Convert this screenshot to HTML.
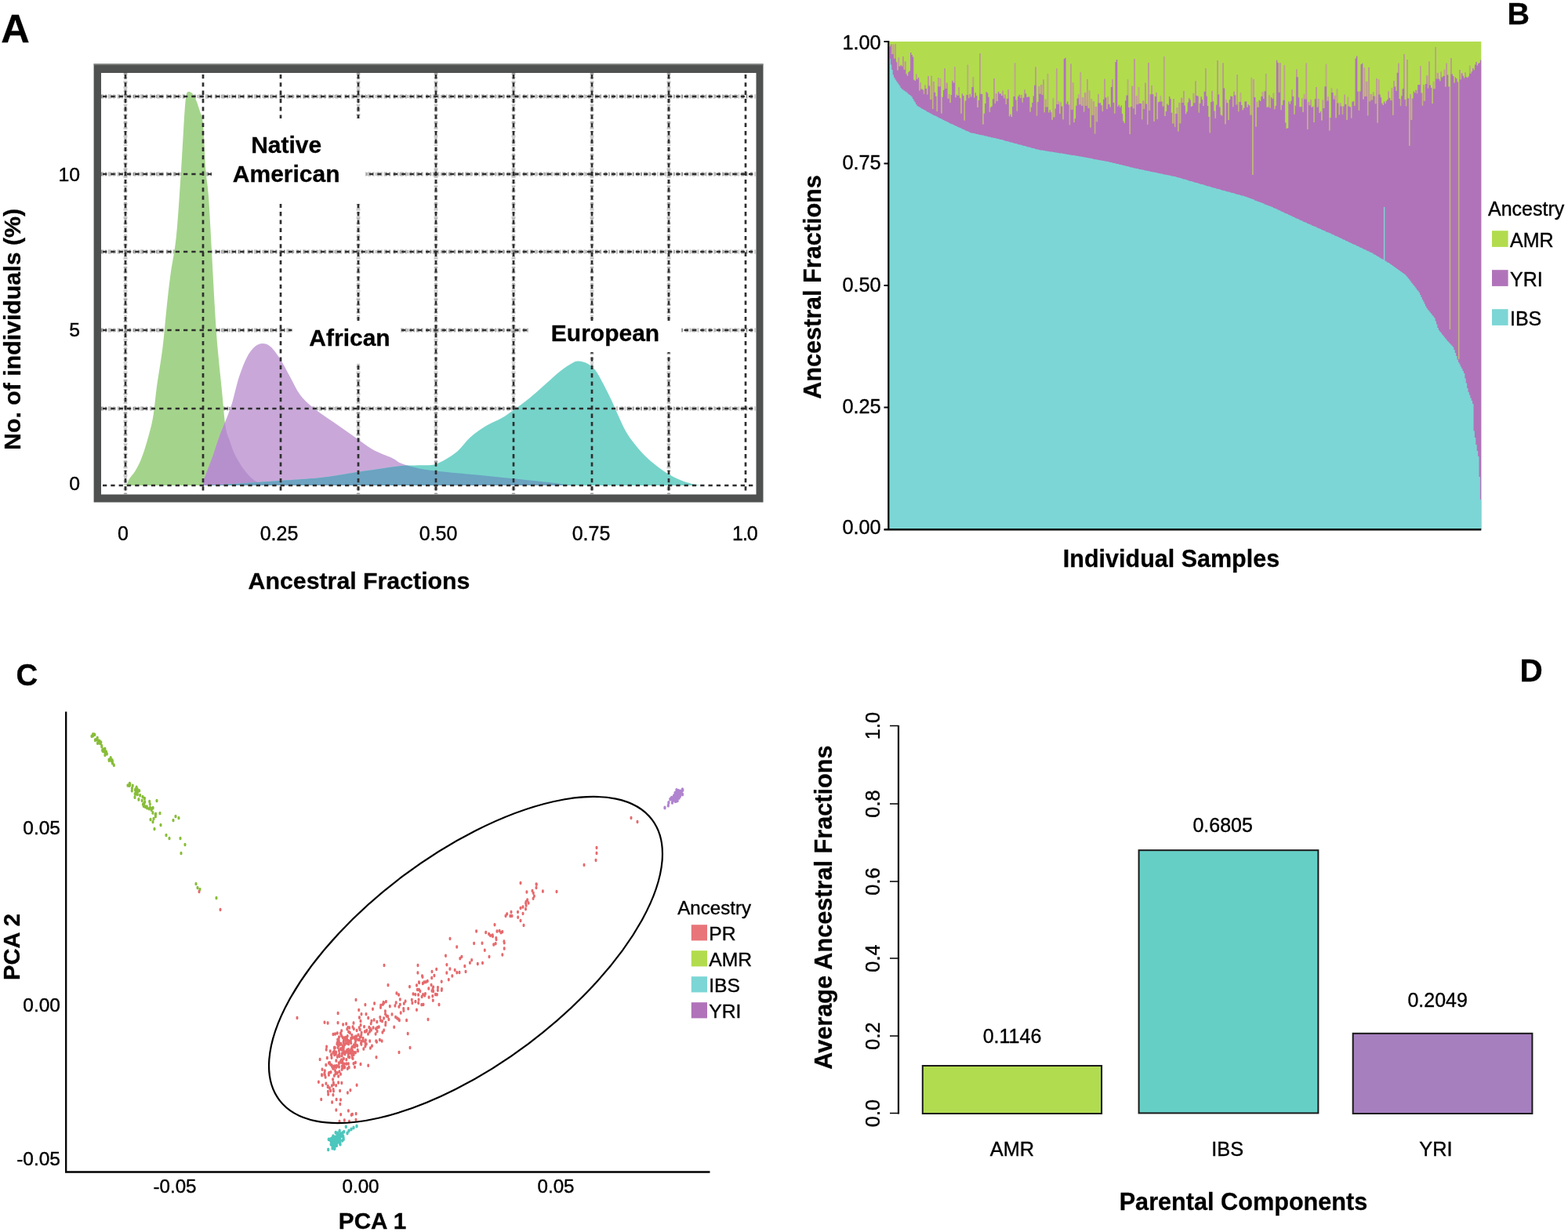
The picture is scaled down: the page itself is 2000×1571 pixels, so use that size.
<!DOCTYPE html>
<html lang="en">
<head>
<meta charset="utf-8">
<title>Ancestral fractions figure</title>
<style>
html,body{margin:0;padding:0;background:#fff;}
body{width:2000px;height:1571px;overflow:hidden;}
svg{display:block;font-family:'Liberation Sans', sans-serif;}
</style>
</head>
<body>
<svg width="2000" height="1571" viewBox="0 0 2000 1571">
<rect width="2000" height="1571" fill="#fff"/>
<g id="panelA">
<rect x="119.6" y="81.5" width="853.9" height="559" fill="#4f5150"/>
<rect x="119.6" y="81" width="853.9" height="1.8" fill="#8a8c8b"/>
<rect x="129" y="93" width="835.5" height="537.5" fill="#fff"/>
<defs><clipPath id="cg"><path d="M160.0,619.0C160.4,618.5 161.7,617.4 162.5,616.0C163.3,614.6 163.3,613.1 165.0,610.5C166.7,607.9 170.0,604.7 172.5,600.5C175.0,596.3 177.5,591.8 180.0,585.5C182.5,579.2 185.0,571.8 187.5,563.0C190.0,554.2 192.9,544.7 195.0,533.0C197.1,521.3 197.9,508.0 200.0,493.0C202.1,478.0 205.4,459.7 207.5,443.0C209.6,426.3 210.8,408.5 212.5,393.0C214.2,377.5 215.4,365.5 217.5,350.0C219.6,334.5 222.8,322.1 225.0,300.0C227.2,277.9 229.3,242.5 231.0,217.5C232.7,192.5 233.9,165.9 235.0,150.0C236.1,134.1 236.5,127.5 237.5,122.0C238.5,116.5 239.6,117.3 241.0,117.0C242.4,116.7 244.5,118.2 246.0,120.0C247.5,121.8 248.5,123.8 250.0,127.5C251.5,131.2 253.5,137.0 255.0,142.0C256.5,147.0 257.8,144.9 259.0,157.5C260.2,170.1 261.3,202.1 262.5,217.5C263.7,232.9 264.8,232.9 266.0,250.0C267.2,267.1 268.7,296.2 270.0,320.0C271.3,343.8 272.8,372.5 274.0,393.0C275.2,413.5 276.1,426.3 277.5,443.0C278.9,459.7 280.8,476.3 282.5,493.0C284.2,509.7 285.8,531.5 287.5,543.0C289.2,554.5 290.9,555.8 293.0,562.0C295.1,568.2 296.8,574.1 300.0,580.5C303.2,586.9 308.3,595.1 312.5,600.5C316.7,605.9 320.9,610.2 325.0,613.0C329.1,615.8 333.7,616.5 337.0,617.5C340.3,618.5 343.7,618.8 345.0,619.0Z"/></clipPath><clipPath id="cp"><path d="M259.0,619.0C259.2,617.8 258.8,615.8 260.0,612.0C261.2,608.2 264.0,601.3 266.0,596.0C268.0,590.7 269.7,586.7 272.0,580.0C274.3,573.3 277.3,563.3 280.0,556.0C282.7,548.7 285.3,543.0 288.0,536.0C290.7,529.0 293.2,523.2 296.0,514.0C298.8,504.8 301.8,490.2 305.0,480.5C308.2,470.8 311.7,461.9 315.0,455.5C318.3,449.1 321.7,444.9 325.0,442.0C328.3,439.1 331.7,438.0 335.0,438.0C338.3,438.0 341.2,438.7 345.0,442.0C348.8,445.3 353.3,451.6 357.5,458.0C361.7,464.4 365.8,473.0 370.0,480.5C374.2,488.0 377.5,496.3 382.5,503.0C387.5,509.7 392.9,514.7 400.0,520.5C407.1,526.3 416.7,532.2 425.0,538.0C433.3,543.8 441.7,549.7 450.0,555.5C458.3,561.3 466.7,568.2 475.0,573.0C483.3,577.8 493.8,581.0 500.0,584.0C506.2,587.0 506.2,588.8 512.0,591.0C517.8,593.2 527.0,595.8 535.0,597.5C543.0,599.2 547.8,599.6 560.0,601.0C572.2,602.4 592.0,604.0 608.0,605.6C624.0,607.2 640.0,608.9 656.0,610.5C672.0,612.1 692.5,614.2 704.0,615.5C715.5,616.8 719.8,617.9 725.0,618.5C730.2,619.1 733.3,618.9 735.0,619.0Z"/></clipPath><clipPath id="ct"><path d="M259.0,619.0C265.8,618.7 283.7,618.0 300.0,617.0C316.3,616.0 340.3,614.2 357.0,613.0C373.7,611.8 388.7,611.0 400.0,610.0C411.3,609.0 415.7,608.3 425.0,607.0C434.3,605.7 446.8,603.4 456.0,602.0C465.2,600.6 470.7,599.8 480.0,598.5C489.3,597.2 501.3,594.9 512.0,594.0C522.7,593.1 536.8,593.6 544.0,593.3C551.2,593.0 551.0,593.2 555.0,592.0C559.0,590.8 563.2,588.8 568.0,586.0C572.8,583.2 578.7,579.8 584.0,575.0C589.3,570.2 594.0,562.8 600.0,557.5C606.0,552.2 613.3,547.1 620.0,543.0C626.7,538.9 634.2,536.3 640.0,533.0C645.8,529.7 649.2,527.2 655.0,523.0C660.8,518.8 668.3,513.4 675.0,508.0C681.7,502.6 688.3,496.3 695.0,490.5C701.7,484.7 709.2,477.6 715.0,473.0C720.8,468.4 726.2,465.1 730.0,463.0C733.8,460.9 734.7,460.3 738.0,460.5C741.3,460.7 746.3,461.9 750.0,464.0C753.7,466.1 756.7,468.6 760.0,473.0C763.3,477.4 766.7,484.2 770.0,490.5C773.3,496.8 776.7,503.4 780.0,510.5C783.3,517.6 786.7,525.9 790.0,533.0C793.3,540.1 795.8,546.3 800.0,553.0C804.2,559.7 810.0,567.2 815.0,573.0C820.0,578.8 824.2,583.0 830.0,588.0C835.8,593.0 843.3,598.8 850.0,603.0C856.7,607.2 863.8,610.5 870.0,613.0C876.2,615.5 883.3,617.0 887.5,618.0C891.7,619.0 893.8,618.8 895.0,619.0Z"/></clipPath><clipPath id="cin"><rect x="129" y="93" width="835.5" height="537.5"/></clipPath></defs>
<g clip-path="url(#cin)" fill="none">
<path d="M129,123H964.5M129,222H964.5M129,321H964.5M129,421H964.5M129,521H964.5" stroke="#8a8a8a" stroke-width="5.5" stroke-dasharray="3.2 2.1 1.5 1.9 4.1 2.4 2.2 3.3" stroke-opacity="0.5"/>
<path d="M129,123H964.5M129,222H964.5M129,321H964.5M129,421H964.5M129,521H964.5" stroke="#555" stroke-width="4" stroke-dasharray="1.2 4.3 1.6 6.1 1.1 3.2" stroke-opacity="0.55"/>
<path d="M160,93V630.5M457,93V630.5M556,93V630.5M655,93V630.5M755,93V630.5M853,93V630.5" stroke="#8a8a8a" stroke-width="5" stroke-dasharray="2.8 2.3 1.5 3.4 3.1 4.2" stroke-opacity="0.45"/>
<path d="M160,93V630.5M457,93V630.5M556,93V630.5M655,93V630.5M755,93V630.5M853,93V630.5" stroke="#555" stroke-width="3.6" stroke-dasharray="1.3 5.3 1.6 4.1 1.1 7.2" stroke-opacity="0.5"/>
</g>
<path d="M160.0,619.0C160.4,618.5 161.7,617.4 162.5,616.0C163.3,614.6 163.3,613.1 165.0,610.5C166.7,607.9 170.0,604.7 172.5,600.5C175.0,596.3 177.5,591.8 180.0,585.5C182.5,579.2 185.0,571.8 187.5,563.0C190.0,554.2 192.9,544.7 195.0,533.0C197.1,521.3 197.9,508.0 200.0,493.0C202.1,478.0 205.4,459.7 207.5,443.0C209.6,426.3 210.8,408.5 212.5,393.0C214.2,377.5 215.4,365.5 217.5,350.0C219.6,334.5 222.8,322.1 225.0,300.0C227.2,277.9 229.3,242.5 231.0,217.5C232.7,192.5 233.9,165.9 235.0,150.0C236.1,134.1 236.5,127.5 237.5,122.0C238.5,116.5 239.6,117.3 241.0,117.0C242.4,116.7 244.5,118.2 246.0,120.0C247.5,121.8 248.5,123.8 250.0,127.5C251.5,131.2 253.5,137.0 255.0,142.0C256.5,147.0 257.8,144.9 259.0,157.5C260.2,170.1 261.3,202.1 262.5,217.5C263.7,232.9 264.8,232.9 266.0,250.0C267.2,267.1 268.7,296.2 270.0,320.0C271.3,343.8 272.8,372.5 274.0,393.0C275.2,413.5 276.1,426.3 277.5,443.0C278.9,459.7 280.8,476.3 282.5,493.0C284.2,509.7 285.8,531.5 287.5,543.0C289.2,554.5 290.9,555.8 293.0,562.0C295.1,568.2 296.8,574.1 300.0,580.5C303.2,586.9 308.3,595.1 312.5,600.5C316.7,605.9 320.9,610.2 325.0,613.0C329.1,615.8 333.7,616.5 337.0,617.5C340.3,618.5 343.7,618.8 345.0,619.0Z" fill="#a4d48b"/>
<path d="M259.0,619.0C259.2,617.8 258.8,615.8 260.0,612.0C261.2,608.2 264.0,601.3 266.0,596.0C268.0,590.7 269.7,586.7 272.0,580.0C274.3,573.3 277.3,563.3 280.0,556.0C282.7,548.7 285.3,543.0 288.0,536.0C290.7,529.0 293.2,523.2 296.0,514.0C298.8,504.8 301.8,490.2 305.0,480.5C308.2,470.8 311.7,461.9 315.0,455.5C318.3,449.1 321.7,444.9 325.0,442.0C328.3,439.1 331.7,438.0 335.0,438.0C338.3,438.0 341.2,438.7 345.0,442.0C348.8,445.3 353.3,451.6 357.5,458.0C361.7,464.4 365.8,473.0 370.0,480.5C374.2,488.0 377.5,496.3 382.5,503.0C387.5,509.7 392.9,514.7 400.0,520.5C407.1,526.3 416.7,532.2 425.0,538.0C433.3,543.8 441.7,549.7 450.0,555.5C458.3,561.3 466.7,568.2 475.0,573.0C483.3,577.8 493.8,581.0 500.0,584.0C506.2,587.0 506.2,588.8 512.0,591.0C517.8,593.2 527.0,595.8 535.0,597.5C543.0,599.2 547.8,599.6 560.0,601.0C572.2,602.4 592.0,604.0 608.0,605.6C624.0,607.2 640.0,608.9 656.0,610.5C672.0,612.1 692.5,614.2 704.0,615.5C715.5,616.8 719.8,617.9 725.0,618.5C730.2,619.1 733.3,618.9 735.0,619.0Z" fill="#c9a8d9"/>
<path d="M259.0,619.0C259.2,617.8 258.8,615.8 260.0,612.0C261.2,608.2 264.0,601.3 266.0,596.0C268.0,590.7 269.7,586.7 272.0,580.0C274.3,573.3 277.3,563.3 280.0,556.0C282.7,548.7 285.3,543.0 288.0,536.0C290.7,529.0 293.2,523.2 296.0,514.0C298.8,504.8 301.8,490.2 305.0,480.5C308.2,470.8 311.7,461.9 315.0,455.5C318.3,449.1 321.7,444.9 325.0,442.0C328.3,439.1 331.7,438.0 335.0,438.0C338.3,438.0 341.2,438.7 345.0,442.0C348.8,445.3 353.3,451.6 357.5,458.0C361.7,464.4 365.8,473.0 370.0,480.5C374.2,488.0 377.5,496.3 382.5,503.0C387.5,509.7 392.9,514.7 400.0,520.5C407.1,526.3 416.7,532.2 425.0,538.0C433.3,543.8 441.7,549.7 450.0,555.5C458.3,561.3 466.7,568.2 475.0,573.0C483.3,577.8 493.8,581.0 500.0,584.0C506.2,587.0 506.2,588.8 512.0,591.0C517.8,593.2 527.0,595.8 535.0,597.5C543.0,599.2 547.8,599.6 560.0,601.0C572.2,602.4 592.0,604.0 608.0,605.6C624.0,607.2 640.0,608.9 656.0,610.5C672.0,612.1 692.5,614.2 704.0,615.5C715.5,616.8 719.8,617.9 725.0,618.5C730.2,619.1 733.3,618.9 735.0,619.0Z" fill="#b690cc" clip-path="url(#cg)"/>
<path d="M259.0,619.0C265.8,618.7 283.7,618.0 300.0,617.0C316.3,616.0 340.3,614.2 357.0,613.0C373.7,611.8 388.7,611.0 400.0,610.0C411.3,609.0 415.7,608.3 425.0,607.0C434.3,605.7 446.8,603.4 456.0,602.0C465.2,600.6 470.7,599.8 480.0,598.5C489.3,597.2 501.3,594.9 512.0,594.0C522.7,593.1 536.8,593.6 544.0,593.3C551.2,593.0 551.0,593.2 555.0,592.0C559.0,590.8 563.2,588.8 568.0,586.0C572.8,583.2 578.7,579.8 584.0,575.0C589.3,570.2 594.0,562.8 600.0,557.5C606.0,552.2 613.3,547.1 620.0,543.0C626.7,538.9 634.2,536.3 640.0,533.0C645.8,529.7 649.2,527.2 655.0,523.0C660.8,518.8 668.3,513.4 675.0,508.0C681.7,502.6 688.3,496.3 695.0,490.5C701.7,484.7 709.2,477.6 715.0,473.0C720.8,468.4 726.2,465.1 730.0,463.0C733.8,460.9 734.7,460.3 738.0,460.5C741.3,460.7 746.3,461.9 750.0,464.0C753.7,466.1 756.7,468.6 760.0,473.0C763.3,477.4 766.7,484.2 770.0,490.5C773.3,496.8 776.7,503.4 780.0,510.5C783.3,517.6 786.7,525.9 790.0,533.0C793.3,540.1 795.8,546.3 800.0,553.0C804.2,559.7 810.0,567.2 815.0,573.0C820.0,578.8 824.2,583.0 830.0,588.0C835.8,593.0 843.3,598.8 850.0,603.0C856.7,607.2 863.8,610.5 870.0,613.0C876.2,615.5 883.3,617.0 887.5,618.0C891.7,619.0 893.8,618.8 895.0,619.0Z" fill="#76d3ca"/>
<path d="M259.0,619.0C265.8,618.7 283.7,618.0 300.0,617.0C316.3,616.0 340.3,614.2 357.0,613.0C373.7,611.8 388.7,611.0 400.0,610.0C411.3,609.0 415.7,608.3 425.0,607.0C434.3,605.7 446.8,603.4 456.0,602.0C465.2,600.6 470.7,599.8 480.0,598.5C489.3,597.2 501.3,594.9 512.0,594.0C522.7,593.1 536.8,593.6 544.0,593.3C551.2,593.0 551.0,593.2 555.0,592.0C559.0,590.8 563.2,588.8 568.0,586.0C572.8,583.2 578.7,579.8 584.0,575.0C589.3,570.2 594.0,562.8 600.0,557.5C606.0,552.2 613.3,547.1 620.0,543.0C626.7,538.9 634.2,536.3 640.0,533.0C645.8,529.7 649.2,527.2 655.0,523.0C660.8,518.8 668.3,513.4 675.0,508.0C681.7,502.6 688.3,496.3 695.0,490.5C701.7,484.7 709.2,477.6 715.0,473.0C720.8,468.4 726.2,465.1 730.0,463.0C733.8,460.9 734.7,460.3 738.0,460.5C741.3,460.7 746.3,461.9 750.0,464.0C753.7,466.1 756.7,468.6 760.0,473.0C763.3,477.4 766.7,484.2 770.0,490.5C773.3,496.8 776.7,503.4 780.0,510.5C783.3,517.6 786.7,525.9 790.0,533.0C793.3,540.1 795.8,546.3 800.0,553.0C804.2,559.7 810.0,567.2 815.0,573.0C820.0,578.8 824.2,583.0 830.0,588.0C835.8,593.0 843.3,598.8 850.0,603.0C856.7,607.2 863.8,610.5 870.0,613.0C876.2,615.5 883.3,617.0 887.5,618.0C891.7,619.0 893.8,618.8 895.0,619.0Z" fill="#6ba3c1" clip-path="url(#cp)"/>
<g clip-path="url(#cin)" fill="none" stroke="#2e2e2e" stroke-width="2.7" stroke-dasharray="5.3 5">
<path d="M160,95V630.5M259,95V630.5M358,95V630.5M457,95V630.5M556,95V630.5M655,95V630.5M755,95V630.5M853,95V630.5M951,95V630.5"/>
<path d="M131,123H964.5M131,222H964.5M131,321H964.5M131,421H964.5M131,521H964.5M131,619H964.5"/>
</g>
<rect x="270" y="151" width="196" height="109" fill="#fff"/>
<rect x="372.5" y="409" width="138.5" height="55" fill="#fff"/>
<rect x="675" y="409" width="194" height="40" fill="#fff"/>
<text x="365.2" y="195" font-size="30.0" font-weight="700" stroke-width="0.3" text-anchor="middle" fill="#000" stroke="#000">Native</text>
<text x="365.2" y="232" font-size="30.0" font-weight="700" stroke-width="0.3" text-anchor="middle" fill="#000" stroke="#000">American</text>
<text x="446" y="440.5" font-size="30.0" font-weight="700" stroke-width="0.3" text-anchor="middle" fill="#000" stroke="#000">African</text>
<text x="772" y="435" font-size="30.0" font-weight="700" stroke-width="0.3" text-anchor="middle" fill="#000" stroke="#000">European</text>
<text x="102" y="231" font-size="24.8" stroke-width="0.38" text-anchor="end" fill="#000" stroke="#000">10</text>
<text x="102" y="429" font-size="24.8" stroke-width="0.38" text-anchor="end" fill="#000" stroke="#000">5</text>
<text x="102" y="625.0" font-size="24.8" stroke-width="0.38" text-anchor="end" fill="#000" stroke="#000">0</text>
<text x="157" y="689.3" font-size="25.0" stroke-width="0.38" text-anchor="middle" fill="#000" stroke="#000">0</text>
<text x="356" y="689.3" font-size="25.0" stroke-width="0.38" text-anchor="middle" fill="#000" stroke="#000">0.25</text>
<text x="559" y="689.3" font-size="25.0" stroke-width="0.38" text-anchor="middle" fill="#000" stroke="#000">0.50</text>
<text x="754" y="689.3" font-size="25.0" stroke-width="0.38" text-anchor="middle" fill="#000" stroke="#000">0.75</text>
<text x="950.4" y="689.3" font-size="25.0" stroke-width="0.38" text-anchor="middle" fill="#000" stroke="#000" textLength="32.6" lengthAdjust="spacing">1.0</text>
<text x="458" y="750.5" font-size="30.3" font-weight="700" stroke-width="0.3" text-anchor="middle" fill="#000" stroke="#000">Ancestral Fractions</text>
<text x="26" y="420" font-size="30.3" font-weight="700" stroke-width="0.3" text-anchor="middle" fill="#000" stroke="#000" transform="rotate(-90 26 420)">No. of individuals (%)</text>
<text x="1.2" y="54.3" font-size="50.6" font-weight="700" stroke-width="0.3" text-anchor="start" fill="#000" stroke="#000">A</text>
</g>
<g id="panelB">
<rect x="1134.5" y="53.0" width="754.8" height="622.0" fill="#b2dc4e"/>
<path d="M1134.50,675.0V59.2H1135.90V56.6H1137.30V69.1H1138.69V56.8H1140.09V74.6H1141.49V56.3H1142.89V79.2H1144.28V89.4H1145.68V73.6H1147.08V84.4H1148.48V82.9H1149.88V84.4H1151.27V72.1H1152.67V88.7H1154.07V78.6H1155.47V94.3H1156.86V96.7H1158.26V92.1H1159.66V90.6H1161.06V67.1H1162.46V70.1H1163.85V72.5H1165.25V101.8H1166.65V103.0H1168.05V94.4H1169.44V101.1H1170.84V99.0H1172.24V115.4H1173.64V105.6H1175.04V113.6H1176.43V114.5H1177.83V119.8H1179.23V108.5H1180.63V112.9H1182.02V120.4H1183.42V97.1H1184.82V109.4H1186.22V126.8H1187.62V96.7H1189.01V139.0H1190.41V104.1H1191.81V117.7H1193.21V122.7H1194.60V142.0H1196.00V99.0H1197.40V110.3H1198.80V100.3H1200.20V144.5H1201.59V123.7H1202.99V115.0H1204.39V87.3H1205.79V113.1H1207.18V105.8H1208.58V125.7H1209.98V120.3H1211.38V130.9H1212.78V120.9H1214.17V103.1H1215.57V105.5H1216.97V85.3H1218.37V124.3H1219.76V120.8H1221.16V121.9H1222.56V111.2H1223.96V125.0H1225.36V144.8H1226.75V119.4H1228.15V122.0H1229.55V153.5H1230.95V128.5H1232.34V121.0H1233.74V82.8H1235.14V125.0H1236.54V120.1H1237.94V123.6H1239.33V111.1H1240.73V98.3H1242.13V124.4H1243.53V118.3H1244.92V122.1H1246.32V137.1H1247.72V128.1H1249.12V68.0H1250.52V119.8H1251.91V120.1H1253.31V158.5H1254.71V144.8H1256.11V132.0H1257.50V117.2H1258.90V118.5H1260.30V123.8H1261.70V142.7H1263.10V136.8H1264.49V135.4H1265.89V126.2H1267.29V100.1H1268.69V132.1H1270.08V119.1H1271.48V128.9H1272.88V116.9H1274.28V119.6H1275.68V119.4H1277.07V122.0H1278.47V115.8H1279.87V125.3H1281.27V120.7H1282.66V132.9H1284.06V125.8H1285.46V114.3H1286.86V148.3H1288.26V145.7H1289.65V148.9H1291.05V136.0H1292.45V122.9H1293.85V80.4H1295.24V127.4H1296.64V141.5H1298.04V123.0H1299.44V120.8H1300.84V125.1H1302.23V121.1H1303.63V130.6H1305.03V124.5H1306.43V114.6H1307.82V119.5H1309.22V123.9H1310.62V123.4H1312.02V123.6H1313.42V142.6H1314.81V136.7H1316.21V131.0H1317.61V122.6H1319.01V108.7H1320.40V85.6H1321.80V147.6H1323.20V129.9H1324.60V110.3H1326.00V119.7H1327.39V108.1H1328.79V121.1H1330.19V101.5H1331.59V143.3H1332.98V126.8H1334.38V136.4H1335.78V93.9H1337.18V143.5H1338.58V140.3H1339.97V143.3H1341.37V152.7H1342.77V124.9H1344.17V149.4H1345.56V138.6H1346.96V87.5H1348.36V133.1H1349.76V128.9H1351.16V144.9H1352.55V130.5H1353.95V135.5H1355.35V152.3H1356.75V75.0H1358.14V73.7H1359.54V132.6H1360.94V129.4H1362.34V133.5H1363.74V159.3H1365.13V81.4H1366.53V139.8H1367.93V105.5H1369.33V156.1H1370.72V151.2H1372.12V134.8H1373.52V125.5H1374.92V120.5H1376.32V133.3H1377.71V92.2H1379.11V135.0H1380.51V124.3H1381.91V142.4H1383.30V118.0H1384.70V134.9H1386.10V101.0H1387.50V138.1H1388.90V115.5H1390.29V162.4H1391.69V126.3H1393.09V146.8H1394.49V129.2H1395.88V170.4H1397.28V136.0H1398.68V155.2H1400.08V119.9H1401.48V131.4H1402.87V131.2H1404.27V134.2H1405.67V141.9H1407.07V126.7H1408.46V100.8H1409.86V124.5H1411.26V139.1H1412.66V123.2H1414.06V132.9H1415.45V136.6H1416.85V110.9H1418.25V101.3H1419.65V131.1H1421.04V144.7H1422.44V79.0H1423.84V76.0H1425.24V135.7H1426.64V133.8H1428.03V136.8H1429.43V134.5H1430.83V144.9H1432.23V154.5H1433.62V157.1H1435.02V128.3H1436.42V121.6H1437.82V101.6H1439.22V137.0H1440.61V171.1H1442.01V135.9H1443.41V109.8H1444.81V138.2H1446.20V75.0H1447.60V146.1H1449.00V122.2H1450.40V133.2H1451.80V111.0H1453.19V132.1H1454.59V132.0H1455.99V152.2H1457.39V128.6H1458.78V139.0H1460.18V105.8H1461.58V132.4H1462.98V158.8H1464.38V80.1H1465.77V141.0H1467.17V120.2H1468.57V109.0H1469.97V120.2H1471.36V154.8H1472.76V123.1H1474.16V118.1H1475.56V152.0H1476.96V130.3H1478.35V129.5H1479.75V122.3H1481.15V129.6H1482.55V135.4H1483.94V72.0H1485.34V148.0H1486.74V142.0H1488.14V132.4H1489.54V134.0H1490.93V123.0H1492.33V126.1H1493.73V143.7H1495.13V157.4H1496.52V126.0H1497.92V161.9H1499.32V145.1H1500.72V137.2H1502.12V167.4H1503.51V130.9H1504.91V157.3H1506.31V124.7H1507.71V131.0H1509.10V116.1H1510.50V134.4H1511.90V145.2H1513.30V142.6H1514.70V130.4H1516.09V125.2H1517.49V127.4H1518.89V135.9H1520.29V135.1H1521.68V119.1H1523.08V131.2H1524.48V103.5H1525.88V121.9H1527.28V122.7H1528.67V143.4H1530.07V131.8H1531.47V123.2H1532.87V126.9H1534.26V134.9H1535.66V116.8H1537.06V87.0H1538.46V122.7H1539.86V135.1H1541.25V148.9H1542.65V169.2H1544.05V130.1H1545.45V115.9H1546.84V129.3H1548.24V141.5H1549.64V150.8H1551.04V133.7H1552.44V77.0H1553.83V120.4H1555.23V136.4H1556.63V146.5H1558.03V147.5H1559.42V80.6H1560.82V112.5H1562.22V158.3H1563.62V127.0H1565.02V131.2H1566.41V153.1H1567.81V127.0H1569.21V122.5H1570.61V123.0H1572.00V136.2H1573.40V116.8H1574.80V121.4H1576.20V133.4H1577.60V95.0H1578.99V142.2H1580.39V129.9H1581.79V118.6H1583.19V134.1H1584.58V140.3H1585.98V137.7H1587.38V129.5H1588.78V129.3H1590.18V136.8H1591.57V133.2H1592.97V134.6H1594.37V146.6H1595.77V98.9H1597.16V223.0H1598.56V101.2H1599.96V124.1H1601.36V161.6H1602.76V130.1H1604.15V136.7H1605.55V127.7H1606.95V128.9H1608.35V123.0H1609.74V117.2H1611.14V126.1H1612.54V116.3H1613.94V94.1H1615.34V136.7H1616.73V136.6H1618.13V121.6H1619.53V137.6H1620.93V123.9H1622.32V125.9H1623.72V118.8H1625.12V139.2H1626.52V134.9H1627.92V76.7H1629.31V80.0H1630.71V117.8H1632.11V80.3H1633.51V140.2H1634.90V134.0H1636.30V127.8H1637.70V83.3H1639.10V156.6H1640.50V164.0H1641.89V163.3H1643.29V129.5H1644.69V132.6H1646.09V128.7H1647.48V114.3H1648.88V122.9H1650.28V145.8H1651.68V134.7H1653.08V88.4H1654.47V98.2H1655.87V124.3H1657.27V136.3H1658.67V136.3H1660.06V125.6H1661.46V143.1H1662.86V120.1H1664.26V126.5H1665.66V80.8H1667.05V165.0H1668.45V130.2H1669.85V134.2H1671.25V126.9H1672.64V137.0H1674.04V135.7H1675.44V155.9H1676.84V126.3H1678.24V110.9H1679.63V136.4H1681.03V126.1H1682.43V143.9H1683.83V142.3H1685.22V153.4H1686.62V127.5H1688.02V137.9H1689.42V110.2H1690.82V81.8H1692.21V128.6H1693.61V123.4H1695.01V166.4H1696.41V150.0H1697.80V112.4H1699.20V118.0H1700.60V126.6H1702.00V121.9H1703.40V150.2H1704.79V113.5H1706.19V131.5H1707.59V146.3H1708.99V131.5H1710.38V135.6H1711.78V145.7H1713.18V135.5H1714.58V120.8H1715.98V133.0H1717.37V152.8H1718.77V123.8H1720.17V135.6H1721.57V136.4H1722.96V150.6H1724.36V129.7H1725.76V129.0H1727.16V135.1H1728.56V74.4H1729.95V71.4H1731.35V116.7H1732.75V140.8H1734.15V116.4H1735.54V82.1H1736.94V80.8H1738.34V126.6H1739.74V86.6H1741.14V123.0H1742.53V104.1H1743.93V147.3H1745.33V85.9H1746.73V129.3H1748.12V120.1H1749.52V127.6H1750.92V117.5H1752.32V122.6H1753.72V132.2H1755.11V100.0H1756.51V156.5H1757.91V101.4H1759.31V120.4H1760.70V124.2H1762.10V131.7H1763.50V134.1H1764.90V129.6H1766.30V132.0H1767.69V128.7H1769.09V127.0H1770.49V116.6H1771.89V124.9H1773.28V128.1H1774.68V112.0H1776.08V146.7H1777.48V103.0H1778.88V110.5H1780.27V115.9H1781.67V92.7H1783.07V80.8H1784.47V126.1H1785.86V135.1H1787.26V122.3H1788.66V113.2H1790.06V69.1H1791.46V126.9H1792.85V135.3H1794.25V76.1H1795.65V125.4H1797.05V186.0H1798.44V120.0H1799.84V153.0H1801.24V125.5H1802.64V116.6H1804.04V118.6H1805.43V114.7H1806.83V119.2H1808.23V108.0H1809.63V108.3H1811.02V84.0H1812.42V118.4H1813.82V134.6H1815.22V108.3H1816.62V128.8H1818.01V107.1H1819.41V96.5H1820.81V112.5H1822.21V78.6H1823.60V108.5H1825.00V111.9H1826.40V132.1H1827.80V104.1H1829.20V113.2H1830.59V60.1H1831.99V100.4H1833.39V93.0H1834.79V100.8H1836.18V103.3H1837.58V91.4H1838.98V98.5H1840.38V97.1H1841.78V88.8H1843.17V110.5H1844.57V80.8H1845.97V95.4H1847.37V110.4H1848.76V420.0H1850.16V74.0H1851.56V94.5H1852.96V97.1H1854.36V105.6H1855.75V98.6H1857.15V100.3H1858.55V104.6H1859.95V458.0H1861.34V89.1H1862.74V101.2H1864.14V93.3H1865.54V96.7H1866.94V99.4H1868.33V92.6H1869.73V98.3H1871.13V99.2H1872.53V97.4H1873.92V83.7H1875.32V93.7H1876.72V91.2H1878.12V87.0H1879.52V89.3H1880.91V82.5H1882.31V78.9H1883.71V83.4H1885.11V81.1H1886.50V80.1H1887.90V76.6H1889.30V675.0Z" fill="#b073b9"/>
<path d="M1137.99,56.8V69.1M1139.39,56.8V69.1M1140.79,56.8V74.6M1142.19,56.3V74.6M1144.98,79.2V89.4M1146.38,73.6V84.4M1151.97,72.1V84.4M1153.37,78.6V88.7M1154.77,78.6V88.7M1168.75,94.4V101.1M1172.94,105.6V115.4M1174.34,105.6V113.6M1178.53,114.5V119.8M1179.93,108.5V112.9M1182.72,112.9V120.4M1184.12,97.1V109.4M1186.92,109.4V126.8M1188.31,96.7V126.8M1189.71,104.1V139.0M1191.11,104.1V117.7M1195.30,122.7V142.0M1196.70,99.0V110.3M1198.10,100.3V110.3M1199.50,100.3V110.3M1200.89,123.7V144.5M1205.09,87.3V113.1M1206.49,105.8V113.1M1207.88,105.8V113.1M1209.28,120.3V125.7M1210.68,120.3V125.7M1212.08,120.9V130.9M1217.67,85.3V105.5M1223.26,111.2V121.9M1226.05,125.0V144.8M1230.25,128.5V153.5M1234.44,82.8V121.0M1235.84,120.1V125.0M1241.43,98.3V111.1M1242.83,118.3V124.4M1247.02,128.1V137.1M1249.82,68.0V119.8M1254.01,144.8V158.5M1262.40,136.8V142.7M1267.99,100.1V126.2M1269.39,119.1V132.1M1270.78,119.1V128.9M1272.18,119.1V128.9M1279.17,115.8V122.0M1280.57,120.7V125.3M1281.97,120.7V125.3M1283.36,125.8V132.9M1286.16,114.3V125.8M1294.55,80.4V122.9M1297.34,127.4V141.5M1301.53,121.1V125.1M1302.93,121.1V125.1M1304.33,124.5V130.6M1307.13,114.6V119.5M1314.11,136.7V142.6M1321.10,85.6V108.7M1322.50,129.9V147.6M1325.30,110.3V119.7M1326.69,110.3V119.7M1328.09,108.1V119.7M1329.49,108.1V121.1M1330.89,101.5V121.1M1332.29,126.8V143.3M1333.68,126.8V136.4M1335.08,126.8V136.4M1336.48,93.9V136.4M1342.07,143.3V152.7M1343.47,124.9V149.4M1344.87,138.6V149.4M1347.66,87.5V133.1M1349.06,128.9V133.1M1350.46,128.9V133.1M1351.85,130.5V144.9M1353.25,130.5V135.5M1356.05,135.5V152.3M1364.43,133.5V159.3M1365.83,81.4V139.8M1367.23,105.5V139.8M1368.63,105.5V139.8M1370.03,151.2V156.1M1375.62,120.5V125.5M1377.01,120.5V133.3M1378.41,92.2V133.3M1379.81,124.3V135.0M1381.21,124.3V135.0M1382.61,124.3V142.4M1384.00,118.0V134.9M1385.40,118.0V134.9M1386.80,101.0V134.9M1388.20,115.5V138.1M1389.59,115.5V138.1M1390.99,126.3V162.4M1392.39,126.3V146.8M1393.79,129.2V146.8M1395.19,129.2V146.8M1396.58,136.0V170.4M1397.98,136.0V155.2M1399.38,136.0V155.2M1400.78,119.9V131.4M1406.37,134.2V141.9M1409.16,100.8V124.5M1411.96,124.5V139.1M1413.36,123.2V132.9M1418.95,101.3V110.9M1421.74,131.1V144.7M1438.52,101.6V121.6M1441.31,137.0V171.1M1444.11,109.8V135.9M1445.51,109.8V138.2M1446.90,75.0V138.2M1448.30,122.2V146.1M1449.70,122.2V133.2M1451.10,122.2V133.2M1452.49,111.0V132.1M1456.69,132.0V152.2M1458.09,128.6V139.0M1459.48,128.6V139.0M1460.88,105.8V132.4M1463.68,132.4V158.8M1465.07,80.1V141.0M1466.47,120.2V141.0M1469.27,109.0V120.2M1472.06,123.1V154.8M1474.86,118.1V123.1M1476.26,130.3V152.0M1480.45,122.3V129.5M1483.25,129.6V135.4M1484.64,72.0V135.4M1486.04,142.0V148.0M1495.83,143.7V157.4M1497.22,126.0V157.4M1498.62,145.1V161.9M1501.42,137.2V145.1M1502.81,137.2V167.4M1504.21,130.9V157.3M1505.61,130.9V157.3M1507.01,124.7V131.0M1508.41,124.7V131.0M1509.80,116.1V131.0M1522.38,119.1V131.2M1523.78,119.1V131.2M1525.18,103.5V121.9M1529.37,131.8V143.4M1534.96,126.9V134.9M1537.76,87.0V116.8M1543.35,148.9V169.2M1546.15,115.9V129.3M1550.34,141.5V150.8M1553.13,77.0V120.4M1560.12,80.6V112.5M1562.92,127.0V158.3M1564.32,127.0V131.2M1567.11,131.2V153.1M1572.70,123.0V136.2M1574.10,116.8V121.4M1576.90,121.4V133.4M1578.29,95.0V133.4M1579.69,129.9V142.2M1582.49,118.6V129.9M1595.07,134.6V146.6M1596.47,98.9V146.6M1597.86,101.2V223.0M1599.26,101.2V124.1M1602.06,130.1V161.6M1603.45,130.1V136.7M1604.85,130.1V136.7M1610.44,117.2V123.0M1611.84,117.2V126.1M1614.64,94.1V116.3M1618.83,121.6V136.6M1620.23,123.9V137.6M1624.42,118.8V125.9M1625.82,134.9V139.2M1631.41,80.3V117.8M1632.81,80.3V117.8M1634.21,134.0V140.2M1638.40,83.3V127.8M1648.18,114.3V122.9M1650.98,134.7V145.8M1653.77,88.4V98.2M1660.76,125.6V136.3M1662.16,125.6V143.1M1663.56,120.1V126.5M1664.96,120.1V126.5M1666.35,80.8V126.5M1667.75,130.2V165.0M1669.15,130.2V134.2M1670.55,130.2V134.2M1671.95,126.9V134.2M1676.14,135.7V155.9M1678.93,110.9V126.3M1680.33,126.1V136.4M1681.73,126.1V136.4M1685.92,142.3V153.4M1687.32,127.5V137.9M1688.72,127.5V137.9M1691.51,81.8V110.2M1692.91,123.4V128.6M1694.31,123.4V128.6M1695.71,150.0V166.4M1698.50,112.4V118.0M1701.30,121.9V126.6M1702.70,121.9V126.6M1704.09,121.9V150.2M1705.49,113.5V131.5M1708.29,131.5V146.3M1709.69,131.5V135.6M1712.48,135.6V145.7M1715.28,120.8V133.0M1718.07,133.0V152.8M1719.47,123.8V135.6M1723.66,136.4V150.6M1727.86,129.0V135.1M1733.45,116.7V140.8M1739.04,86.6V126.6M1740.44,86.6V123.0M1741.83,104.1V123.0M1743.23,104.1V123.0M1744.63,104.1V147.3M1746.03,85.9V129.3M1747.43,120.1V129.3M1748.82,120.1V127.6M1750.22,120.1V127.6M1751.62,117.5V122.6M1754.41,122.6V132.2M1755.81,100.0V132.2M1757.21,101.4V156.5M1758.61,101.4V120.4M1771.19,116.6V124.9M1775.38,112.0V128.1M1776.78,112.0V146.7M1778.18,103.0V110.5M1780.97,110.5V115.9M1783.77,80.8V92.7M1786.56,126.1V135.1M1790.76,69.1V113.2M1793.55,126.9V135.3M1794.95,76.1V125.4M1797.75,125.4V186.0M1799.14,120.0V153.0M1800.54,125.5V153.0M1807.53,114.7V119.2M1811.72,84.0V108.3M1814.52,118.4V134.6M1815.92,108.3V128.8M1817.31,108.3V128.8M1820.11,96.5V107.1M1821.51,96.5V112.5M1822.91,78.6V108.5M1827.10,111.9V132.1M1828.50,104.1V113.2M1829.89,104.1V113.2M1831.29,60.1V100.4M1832.69,93.0V100.4M1834.09,93.0V100.4M1838.28,91.4V98.5M1842.47,88.8V97.1M1843.87,88.8V110.5M1845.27,80.8V95.4M1849.46,110.4V420.0M1850.86,74.0V94.5M1855.05,98.6V105.6M1860.65,104.6V458.0M1862.04,89.1V101.2M1863.44,93.3V101.2M1869.03,92.6V98.3M1874.62,83.7V93.7" stroke="#c9aa8c" stroke-width="0.9" fill="none"/>
<path d="M1134.50,675.0V75.0H1135.90V82.5H1137.30V89.0H1138.69V95.5H1140.09V99.0H1141.49V101.5H1142.89V103.5H1144.28V105.5H1145.68V107.5H1147.08V109.5H1148.48V112.0H1149.88V113.5H1151.27V114.5H1152.67V115.5H1154.07V116.5H1155.47V117.5H1156.86V118.5H1158.26V120.0H1159.66V121.0H1161.06V122.0H1162.46V123.5H1163.85V126.0H1165.25V128.5H1166.65V130.5H1168.05V133.0H1169.44V135.0H1170.84V136.0H1172.24V136.5H1173.64V137.5H1175.04V138.5H1176.43V139.0H1177.83V140.0H1179.23V140.5H1180.63V141.5H1182.02V142.5H1183.42V143.0H1184.82V144.0H1186.22V144.5H1187.62V145.5H1189.01V146.0H1190.41V147.0H1191.81V147.5H1193.21V148.0H1194.60V149.0H1196.00V149.5H1197.40V150.5H1198.80V151.0H1200.20V151.5H1201.59V152.5H1202.99V153.0H1204.39V154.0H1205.79V154.5H1207.18V155.0H1208.58V156.0H1209.98V156.5H1211.38V157.5H1212.78V158.0H1214.17V158.5H1215.57V159.0H1216.97V160.0H1218.37V160.5H1219.76V161.0H1221.16V162.0H1222.56V162.5H1223.96V163.0H1225.36V163.5H1226.75V164.5H1228.15V165.0H1229.55V165.5H1230.95V166.5H1232.34V167.0H1233.74V167.5H1235.14V168.0H1236.54V169.0H1237.94V169.5H1239.33V169.5H1240.73V170.0H1242.13V170.0H1243.53V170.5H1244.92V171.0H1246.32V171.0H1247.72V171.5H1249.12V172.0H1250.52V172.0H1251.91V172.5H1253.31V172.5H1254.71V173.0H1256.11V173.5H1257.50V173.5H1258.90V174.0H1260.30V174.5H1261.70V174.5H1263.10V175.0H1264.49V175.5H1265.89V175.5H1267.29V176.0H1268.69V176.0H1270.08V176.5H1271.48V177.0H1272.88V177.0H1274.28V177.5H1275.68V178.0H1277.07V178.0H1278.47V178.5H1279.87V179.0H1281.27V179.5H1282.66V180.0H1284.06V180.0H1285.46V180.5H1286.86V181.0H1288.26V181.5H1289.65V181.5H1291.05V182.0H1292.45V182.5H1293.85V183.0H1295.24V183.0H1296.64V183.5H1298.04V184.0H1299.44V184.5H1300.84V184.5H1302.23V185.0H1303.63V185.5H1305.03V186.0H1306.43V186.0H1307.82V186.5H1309.22V187.0H1310.62V187.5H1312.02V187.5H1313.42V188.0H1314.81V188.5H1316.21V189.0H1317.61V189.0H1319.01V189.5H1320.40V190.0H1321.80V190.5H1323.20V190.5H1324.60V191.0H1326.00V191.5H1327.39V191.5H1328.79V191.5H1330.19V192.0H1331.59V192.0H1332.98V192.5H1334.38V192.5H1335.78V193.0H1337.18V193.0H1338.58V193.5H1339.97V193.5H1341.37V193.5H1342.77V194.0H1344.17V194.0H1345.56V194.5H1346.96V194.5H1348.36V195.0H1349.76V195.0H1351.16V195.5H1352.55V195.5H1353.95V195.5H1355.35V196.0H1356.75V196.0H1358.14V196.5H1359.54V196.5H1360.94V197.0H1362.34V197.0H1363.74V197.5H1365.13V197.5H1366.53V198.0H1367.93V198.0H1369.33V198.0H1370.72V198.5H1372.12V198.5H1373.52V199.0H1374.92V199.0H1376.32V199.5H1377.71V199.5H1379.11V200.0H1380.51V200.0H1381.91V200.5H1383.30V200.5H1384.70V201.0H1386.10V201.0H1387.50V201.5H1388.90V201.5H1390.29V202.0H1391.69V202.0H1393.09V202.5H1394.49V203.0H1395.88V203.0H1397.28V203.5H1398.68V203.5H1400.08V204.0H1401.48V204.0H1402.87V204.5H1404.27V204.5H1405.67V205.0H1407.07V205.0H1408.46V205.5H1409.86V205.5H1411.26V206.0H1412.66V206.0H1414.06V206.5H1415.45V207.0H1416.85V207.0H1418.25V207.5H1419.65V208.0H1421.04V208.0H1422.44V208.5H1423.84V209.0H1425.24V209.0H1426.64V209.5H1428.03V210.0H1429.43V210.0H1430.83V210.5H1432.23V211.0H1433.62V211.0H1435.02V211.5H1436.42V212.0H1437.82V212.0H1439.22V212.5H1440.61V213.0H1442.01V213.5H1443.41V213.5H1444.81V214.0H1446.20V214.5H1447.60V214.5H1449.00V215.0H1450.40V215.0H1451.80V215.5H1453.19V216.0H1454.59V216.0H1455.99V216.5H1457.39V216.5H1458.78V217.0H1460.18V217.5H1461.58V217.5H1462.98V218.0H1464.38V218.0H1465.77V218.5H1467.17V219.0H1468.57V219.0H1469.97V219.5H1471.36V219.5H1472.76V220.0H1474.16V220.0H1475.56V220.5H1476.96V221.0H1478.35V221.0H1479.75V221.5H1481.15V221.5H1482.55V222.0H1483.94V222.5H1485.34V222.5H1486.74V223.0H1488.14V223.0H1489.54V223.5H1490.93V223.5H1492.33V224.0H1493.73V224.5H1495.13V224.5H1496.52V225.0H1497.92V225.0H1499.32V225.5H1500.72V226.0H1502.12V226.5H1503.51V226.5H1504.91V227.0H1506.31V227.5H1507.71V228.0H1509.10V228.5H1510.50V228.5H1511.90V229.0H1513.30V229.5H1514.70V230.0H1516.09V230.5H1517.49V231.0H1518.89V231.0H1520.29V231.5H1521.68V232.0H1523.08V232.5H1524.48V233.0H1525.88V233.0H1527.28V233.5H1528.67V234.0H1530.07V234.5H1531.47V235.0H1532.87V235.0H1534.26V235.5H1535.66V236.0H1537.06V236.5H1538.46V237.0H1539.86V237.5H1541.25V237.5H1542.65V238.0H1544.05V238.5H1545.45V239.0H1546.84V239.5H1548.24V239.5H1549.64V240.0H1551.04V240.5H1552.44V241.0H1553.83V241.0H1555.23V241.5H1556.63V242.0H1558.03V242.5H1559.42V243.0H1560.82V243.0H1562.22V243.5H1563.62V244.0H1565.02V244.5H1566.41V244.5H1567.81V245.0H1569.21V245.5H1570.61V246.0H1572.00V246.0H1573.40V246.5H1574.80V247.0H1576.20V247.5H1577.60V248.0H1578.99V248.0H1580.39V248.5H1581.79V249.0H1583.19V249.5H1584.58V249.5H1585.98V250.0H1587.38V250.5H1588.78V251.0H1590.18V251.5H1591.57V252.0H1592.97V252.5H1594.37V253.0H1595.77V253.5H1597.16V254.0H1598.56V254.5H1599.96V255.5H1601.36V256.0H1602.76V256.5H1604.15V257.0H1605.55V257.5H1606.95V258.0H1608.35V258.5H1609.74V259.0H1611.14V259.5H1612.54V260.5H1613.94V261.0H1615.34V261.5H1616.73V262.0H1618.13V262.5H1619.53V263.0H1620.93V263.5H1622.32V264.0H1623.72V265.0H1625.12V265.5H1626.52V266.0H1627.92V266.5H1629.31V267.5H1630.71V268.0H1632.11V268.5H1633.51V269.5H1634.90V270.0H1636.30V270.5H1637.70V271.5H1639.10V272.0H1640.50V272.5H1641.89V273.0H1643.29V274.0H1644.69V274.5H1646.09V275.0H1647.48V276.0H1648.88V276.5H1650.28V277.0H1651.68V278.0H1653.08V278.5H1654.47V279.0H1655.87V279.5H1657.27V280.5H1658.67V281.0H1660.06V281.5H1661.46V282.5H1662.86V283.0H1664.26V283.5H1665.66V284.0H1667.05V285.0H1668.45V285.5H1669.85V286.0H1671.25V286.5H1672.64V287.5H1674.04V288.0H1675.44V288.5H1676.84V289.0H1678.24V289.5H1679.63V290.5H1681.03V291.0H1682.43V291.5H1683.83V292.0H1685.22V293.0H1686.62V293.5H1688.02V294.0H1689.42V294.5H1690.82V295.5H1692.21V296.0H1693.61V296.5H1695.01V297.0H1696.41V297.5H1697.80V298.5H1699.20V299.0H1700.60V299.5H1702.00V300.5H1703.40V301.0H1704.79V301.5H1706.19V302.0H1707.59V303.0H1708.99V303.5H1710.38V304.0H1711.78V305.0H1713.18V305.5H1714.58V306.0H1715.98V307.0H1717.37V307.5H1718.77V308.0H1720.17V309.0H1721.57V309.5H1722.96V310.0H1724.36V311.0H1725.76V311.5H1727.16V312.0H1728.56V312.5H1729.95V313.5H1731.35V314.0H1732.75V314.5H1734.15V315.5H1735.54V316.0H1736.94V316.5H1738.34V317.5H1739.74V318.0H1741.14V318.5H1742.53V319.5H1743.93V320.0H1745.33V320.5H1746.73V321.5H1748.12V322.0H1749.52V322.5H1750.92V323.5H1752.32V324.5H1753.72V325.0H1755.11V326.0H1756.51V327.0H1757.91V327.5H1759.31V328.5H1760.70V329.5H1762.10V330.0H1763.50V331.0H1764.90V264.0H1766.30V332.5H1767.69V333.5H1769.09V334.5H1770.49V335.0H1771.89V336.0H1773.28V337.0H1774.68V338.0H1776.08V339.0H1777.48V340.0H1778.88V341.0H1780.27V342.0H1781.67V343.0H1783.07V344.0H1784.47V345.0H1785.86V346.0H1787.26V347.0H1788.66V348.0H1790.06V349.0H1791.46V350.0H1792.85V351.5H1794.25V353.0H1795.65V355.0H1797.05V356.5H1798.44V358.5H1799.84V360.5H1801.24V362.0H1802.64V364.0H1804.04V365.5H1805.43V367.5H1806.83V369.5H1808.23V371.0H1809.63V373.0H1811.02V376.0H1812.42V379.0H1813.82V382.0H1815.22V384.5H1816.62V387.5H1818.01V390.5H1819.41V393.0H1820.81V395.0H1822.21V396.5H1823.60V398.5H1825.00V400.0H1826.40V402.0H1827.80V403.5H1829.20V405.5H1830.59V409.5H1831.99V413.5H1833.39V418.0H1834.79V421.0H1836.18V423.0H1837.58V424.5H1838.98V426.5H1840.38V428.0H1841.78V430.0H1843.17V431.5H1844.57V433.5H1845.97V435.0H1847.37V436.5H1848.76V438.0H1850.16V439.5H1851.56V441.0H1852.96V442.5H1854.36V446.0H1855.75V450.0H1857.15V454.0H1858.55V458.5H1859.95V462.0H1861.34V464.5H1862.74V467.5H1864.14V470.0H1865.54V473.0H1866.94V476.0H1868.33V482.5H1869.73V488.5H1871.13V495.0H1872.53V500.0H1873.92V503.5H1875.32V507.5H1876.72V511.0H1878.12V515.0H1879.52V549.5H1880.91V558.0H1882.31V567.0H1883.71V575.0H1885.11V582.0H1886.50V608.0H1887.90V637.0H1889.30V675.0Z" fill="#7cd6d5"/>
<path d="M1133.3,52V676M1127.5,53H1134M1127.5,208.5H1134M1127.5,364H1134M1127.5,519.5H1134" stroke="#000" stroke-width="2.2" fill="none"/>
<path d="M1127.5,675.3H1889.3" stroke="#000" stroke-width="2.4" fill="none"/>
<text x="1123.7" y="62.6" font-size="25.3" stroke-width="0.38" text-anchor="end" fill="#000" stroke="#000">1.00</text>
<text x="1123.7" y="216.2" font-size="25.3" stroke-width="0.38" text-anchor="end" fill="#000" stroke="#000">0.75</text>
<text x="1123.7" y="372" font-size="25.3" stroke-width="0.38" text-anchor="end" fill="#000" stroke="#000">0.50</text>
<text x="1123.7" y="526.8" font-size="25.3" stroke-width="0.38" text-anchor="end" fill="#000" stroke="#000">0.25</text>
<text x="1123.7" y="680.6" font-size="25.3" stroke-width="0.38" text-anchor="end" fill="#000" stroke="#000">0.00</text>
<text x="1047" y="366" font-size="30.6" font-weight="700" stroke-width="0.3" text-anchor="middle" fill="#000" stroke="#000" transform="rotate(-90 1047 366)">Ancestral Fractions</text>
<text x="1494" y="723" font-size="30.5" font-weight="700" stroke-width="0.3" text-anchor="middle" fill="#000" stroke="#000">Individual Samples</text>
<text x="1922.6" y="31" font-size="39.5" font-weight="700" stroke-width="0.3" text-anchor="start" fill="#000" stroke="#000">B</text>
<text x="1898" y="275" font-size="25.0" stroke-width="0.38" text-anchor="start" fill="#000" stroke="#000">Ancestry</text>
<rect x="1903" y="294.2" width="20.6" height="20.7" fill="#b2dc4e"/>
<text x="1926" y="314.5" font-size="25.0" stroke-width="0.38" text-anchor="start" fill="#000" stroke="#000">AMR</text>
<rect x="1903" y="344.2" width="20.6" height="20.7" fill="#b073b9"/>
<text x="1926" y="364.5" font-size="25.0" stroke-width="0.38" text-anchor="start" fill="#000" stroke="#000">YRI</text>
<rect x="1903" y="394.2" width="20.6" height="20.7" fill="#7cd6d5"/>
<text x="1926" y="414.5" font-size="25.0" stroke-width="0.38" text-anchor="start" fill="#000" stroke="#000">IBS</text>
</g>
<g id="panelC">
<path d="M125.3,943.8v1.6M143.4,972.2v1.6M130.6,955.8v1.6M132.3,956.4v1.6M127.5,946.8v1.6M121.4,942.8v1.6M143.5,969.9v1.6M128.8,945.8v1.6M133.9,961.8v1.6M124.5,947.0v1.6M127.6,945.9v1.6M124.2,940.1v1.6M122.7,942.3v1.6M141.2,965.6v1.6M117.0,937.9v1.6M145.3,974.8v1.6M125.6,945.8v1.6M143.6,972.3v1.6M118.6,935.6v1.6M129.8,951.1v1.6M139.2,968.9v1.6M131.8,954.8v1.6M118.5,937.3v1.6M133.7,958.2v1.6M136.4,960.4v1.6M120.8,936.0v1.6M134.3,956.7v1.6M126.9,944.1v1.6M139.0,968.0v1.6M133.9,953.9v1.6M135.6,958.0v1.6M129.7,950.3v1.6M132.9,955.5v1.6M118.9,936.0v1.6M142.3,969.5v1.6M143.1,968.4v1.6M131.3,956.9v1.6M119.8,935.8v1.6M134.2,958.3v1.6M140.7,967.2v1.6M165.3,998.2v1.6M191.3,1024.5v1.6M174.2,1011.4v1.6M198.6,1036.9v1.6M178.6,1013.3v1.6M164.9,1000.8v1.6M181.2,1019.9v1.6M198.2,1038.1v1.6M190.2,1030.5v1.6M187.3,1027.8v1.6M191.5,1029.1v1.6M165.6,1000.1v1.6M172.9,1005.6v1.6M195.1,1029.3v1.6M163.0,1000.7v1.6M173.1,1007.3v1.6M165.8,998.6v1.6M193.2,1030.7v1.6M168.4,1004.3v1.6M193.8,1030.3v1.6M184.7,1021.7v1.6M173.4,1009.9v1.6M193.2,1032.0v1.6M182.0,1015.2v1.6M190.7,1021.2v1.6M194.9,1035.6v1.6M176.9,1018.6v1.6M184.4,1017.3v1.6M198.6,1037.5v1.6M168.3,1007.4v1.6M184.0,1023.4v1.6M198.4,1040.1v1.6M174.1,1003.0v1.6M177.7,1007.4v1.6M172.0,1015.8v1.6M175.2,1005.6v1.6M169.2,1000.9v1.6M175.4,1009.3v1.6M185.3,1027.8v1.6M183.2,1026.9v1.6M187.6,1029.4v1.6M182.4,1024.7v1.6M175.3,1012.2v1.6M172.2,1011.4v1.6M172.4,1006.5v1.6M200.0,1020.2v1.6M204.0,1036.2v1.6M205.0,1051.2v1.6M196.0,1043.2v1.6M197.0,1056.2v1.6M212.0,1064.2v1.6M216.0,1068.2v1.6M221.0,1045.2v1.6M224.0,1040.2v1.6M228.0,1042.2v1.6M230.0,1068.2v1.6M236.0,1076.2v1.6M231.0,1087.2v1.6M250.0,1126.2v1.6M252.0,1131.2v1.6M255.0,1133.2v1.6M276.0,1144.2v1.6M192.0,1044.2v1.6M195.0,1047.2v1.6" stroke="#88bd38" stroke-width="3.0" stroke-linecap="round" fill="none"/>
<path d="M433.2,1346.1v1.6M413.8,1369.1v1.6M411.0,1362.9v1.6M432.9,1342.9v1.6M426.3,1370.9v1.6M452.5,1334.3v1.6M415.9,1381.0v1.6M424.6,1361.7v1.6M435.6,1350.6v1.6M443.2,1320.4v1.6M430.7,1324.9v1.6M416.2,1337.6v1.6M446.4,1316.2v1.6M438.6,1360.7v1.6M444.4,1337.5v1.6M435.8,1380.1v1.6M425.0,1318.1v1.6M444.4,1355.7v1.6M444.2,1346.7v1.6M434.7,1352.3v1.6M434.3,1353.4v1.6M456.2,1338.3v1.6M422.0,1366.5v1.6M425.0,1341.2v1.6M415.8,1357.3v1.6M444.1,1340.2v1.6M436.3,1359.0v1.6M450.0,1322.4v1.6M448.8,1344.4v1.6M453.5,1341.4v1.6M439.1,1355.9v1.6M432.4,1339.0v1.6M447.1,1339.1v1.6M435.8,1337.8v1.6M431.6,1371.7v1.6M438.7,1341.8v1.6M427.6,1317.7v1.6M460.0,1356.3v1.6M446.9,1389.4v1.6M424.6,1359.2v1.6M414.3,1369.6v1.6M457.7,1287.1v1.6M434.5,1368.9v1.6M431.6,1379.8v1.6M420.6,1354.5v1.6M422.5,1344.5v1.6M456.5,1339.5v1.6M436.5,1351.6v1.6M466.0,1332.6v1.6M437.6,1305.6v1.6M419.8,1367.1v1.6M444.7,1330.5v1.6M436.1,1362.9v1.6M447.7,1329.2v1.6M432.5,1321.8v1.6M444.1,1326.3v1.6M426.4,1339.8v1.6M423.0,1347.9v1.6M434.1,1336.6v1.6M427.3,1335.3v1.6M453.9,1321.0v1.6M451.0,1303.8v1.6M432.0,1330.3v1.6M445.7,1309.8v1.6M448.8,1335.5v1.6M426.4,1335.3v1.6M452.1,1322.0v1.6M426.5,1359.1v1.6M425.6,1382.0v1.6M441.4,1341.0v1.6M442.5,1324.1v1.6M447.7,1323.4v1.6M428.6,1360.5v1.6M419.4,1369.8v1.6M429.1,1358.5v1.6M449.0,1322.9v1.6M455.1,1382.9v1.6M438.4,1349.1v1.6M411.5,1383.1v1.6M406.4,1379.0v1.6M439.4,1322.9v1.6M446.7,1339.1v1.6M439.8,1324.8v1.6M438.1,1339.9v1.6M439.7,1360.1v1.6M435.9,1353.9v1.6M417.3,1348.3v1.6M450.0,1308.8v1.6M435.0,1318.1v1.6M428.8,1351.8v1.6M429.9,1330.4v1.6M449.2,1348.0v1.6M442.8,1311.5v1.6M430.3,1367.4v1.6M438.4,1334.6v1.6M441.9,1355.8v1.6M435.7,1313.6v1.6M436.7,1353.0v1.6M436.7,1352.3v1.6M432.9,1365.7v1.6M409.7,1401.2v1.6M421.2,1339.7v1.6M432.5,1359.7v1.6M423.0,1343.9v1.6M425.2,1388.4v1.6M414.3,1364.6v1.6M437.0,1354.2v1.6M428.6,1383.4v1.6M410.5,1369.7v1.6M436.3,1342.8v1.6M431.6,1345.2v1.6M449.8,1340.6v1.6M444.6,1338.3v1.6M425.6,1361.8v1.6M408.1,1350.2v1.6M449.6,1334.5v1.6M416.6,1334.0v1.6M413.9,1367.6v1.6M424.6,1375.6v1.6M435.5,1319.9v1.6M425.4,1380.0v1.6M436.2,1345.4v1.6M428.4,1343.5v1.6M445.2,1360.3v1.6M450.1,1349.0v1.6M410.6,1370.5v1.6M443.3,1361.9v1.6M441.6,1304.8v1.6M421.5,1356.7v1.6M430.4,1346.9v1.6M438.5,1326.4v1.6M435.8,1336.5v1.6M426.6,1344.2v1.6M432.4,1327.8v1.6M419.5,1354.8v1.6M415.1,1372.8v1.6M418.3,1384.3v1.6M431.0,1334.9v1.6M432.2,1354.6v1.6M441.6,1325.7v1.6M432.5,1355.2v1.6M428.6,1340.9v1.6M451.0,1355.4v1.6M434.3,1316.9v1.6M445.4,1341.2v1.6M419.3,1368.4v1.6M427.6,1364.7v1.6M428.0,1368.5v1.6M430.5,1358.7v1.6M430.1,1328.9v1.6M423.2,1357.6v1.6M438.4,1326.4v1.6M437.7,1357.1v1.6M437.1,1332.6v1.6M423.5,1359.1v1.6M429.2,1367.6v1.6M447.4,1326.3v1.6M452.5,1341.2v1.6M451.1,1344.1v1.6M424.9,1395.4v1.6M426.8,1358.7v1.6M441.8,1350.4v1.6M433.6,1390.1v1.6M453.1,1331.1v1.6M449.3,1334.3v1.6M473.9,1301.1v1.6M506.6,1297.6v1.6M463.8,1336.8v1.6M533.6,1267.8v1.6M456.9,1324.9v1.6M460.4,1329.4v1.6M500.0,1292.6v1.6M466.4,1325.8v1.6M479.1,1317.6v1.6M479.7,1326.6v1.6M511.2,1290.8v1.6M438.0,1328.3v1.6M454.7,1320.9v1.6M525.9,1278.1v1.6M464.5,1308.5v1.6M465.9,1280.4v1.6M460.8,1318.9v1.6M492.4,1276.5v1.6M444.6,1314.9v1.6M532.9,1239.7v1.6M467.0,1292.4v1.6M504.6,1296.2v1.6M454.7,1332.2v1.6M510.3,1273.6v1.6M539.0,1245.0v1.6M515.3,1278.9v1.6M491.9,1303.1v1.6M455.7,1332.8v1.6M547.1,1271.0v1.6M529.8,1276.4v1.6M508.6,1267.8v1.6M538.5,1243.8v1.6M531.5,1287.0v1.6M452.5,1360.0v1.6M467.3,1330.5v1.6M472.2,1310.8v1.6M495.0,1255.4v1.6M493.0,1294.6v1.6M480.0,1347.4v1.6M469.5,1317.7v1.6M533.7,1278.2v1.6M471.5,1314.8v1.6M465.9,1328.6v1.6M514.9,1287.9v1.6M475.5,1286.0v1.6M434.8,1330.3v1.6M444.2,1343.1v1.6M472.4,1335.7v1.6M520.2,1317.3v1.6M440.8,1322.2v1.6M440.3,1340.7v1.6M545.3,1250.3v1.6M455.1,1313.2v1.6M465.9,1333.4v1.6M555.4,1267.3v1.6M439.6,1331.3v1.6M474.5,1333.0v1.6M534.4,1251.7v1.6M457.0,1319.0v1.6M541.7,1268.6v1.6M551.8,1269.4v1.6M461.3,1327.2v1.6M458.5,1325.1v1.6M445.1,1327.3v1.6M489.1,1277.4v1.6M508.9,1282.9v1.6M453.4,1354.1v1.6M557.4,1267.4v1.6M461.6,1326.9v1.6M484.8,1296.4v1.6M432.0,1332.5v1.6M447.6,1341.7v1.6M439.9,1343.4v1.6M517.1,1275.9v1.6M479.5,1311.0v1.6M459.2,1312.2v1.6M463.4,1326.4v1.6M487.5,1301.5v1.6M453.2,1328.7v1.6M530.0,1276.5v1.6M477.6,1278.8v1.6M485.7,1281.3v1.6M447.9,1337.3v1.6M460.1,1306.4v1.6M431.9,1332.3v1.6M449.6,1338.9v1.6M560.0,1280.3v1.6M483.3,1308.8v1.6M445.7,1347.3v1.6M442.6,1338.4v1.6M485.5,1300.5v1.6M438.1,1328.1v1.6M491.5,1292.1v1.6M540.0,1280.1v1.6M458.2,1309.8v1.6M514.7,1285.4v1.6M539.3,1253.3v1.6M454.2,1324.6v1.6M470.8,1309.3v1.6M442.8,1329.7v1.6M546.8,1259.8v1.6M534.4,1261.2v1.6M465.3,1314.7v1.6M489.6,1297.6v1.6M488.4,1279.9v1.6M481.1,1314.3v1.6M552.7,1257.9v1.6M473.2,1304.4v1.6M446.0,1342.0v1.6M441.0,1329.4v1.6M469.7,1358.0v1.6M469.7,1297.3v1.6M451.3,1332.0v1.6M497.3,1282.4v1.6M431.7,1332.1v1.6M460.9,1331.0v1.6M467.8,1313.3v1.6M438.2,1337.6v1.6M495.9,1299.1v1.6M487.1,1326.7v1.6M508.5,1299.0v1.6M531.5,1255.6v1.6M459.2,1321.6v1.6M534.6,1252.3v1.6M535.9,1263.1v1.6M491.4,1288.6v1.6M466.7,1314.5v1.6M494.7,1295.4v1.6M502.7,1308.9v1.6M432.1,1325.4v1.6M505.9,1265.8v1.6M481.5,1309.5v1.6M431.1,1291.3v1.6M520.7,1285.4v1.6M452.8,1324.1v1.6M480.8,1302.3v1.6M443.8,1309.4v1.6M463.1,1323.2v1.6M460.0,1301.3v1.6M434.3,1330.9v1.6M448.8,1319.1v1.6M505.2,1277.8v1.6M491.7,1306.2v1.6M414.0,1303.0v1.6M476.1,1309.8v1.6M552.3,1274.9v1.6M460.3,1321.1v1.6M458.4,1296.8v1.6M551.0,1262.6v1.6M489.7,1313.0v1.6M538.1,1270.1v1.6M480.5,1327.8v1.6M453.7,1326.6v1.6M473.5,1312.7v1.6M430.3,1316.7v1.6M461.1,1316.1v1.6M518.6,1300.3v1.6M510.3,1280.1v1.6M471.7,1326.8v1.6M431.0,1303.5v1.6M451.3,1311.2v1.6M487.9,1315.7v1.6M437.1,1322.3v1.6M541.0,1251.6v1.6M485.5,1283.9v1.6M525.3,1274.1v1.6M489.7,1278.1v1.6M418.1,1303.8v1.6M509.4,1300.3v1.6M532.4,1261.1v1.6M484.4,1325.1v1.6M477.1,1299.8v1.6M503.9,1281.6v1.6M461.0,1292.5v1.6M563.5,1260.4v1.6M551.0,1238.2v1.6M573.9,1234.8v1.6M628.3,1191.6v1.6M601.7,1223.4v1.6M637.1,1186.2v1.6M572.3,1248.4v1.6M640.8,1216.7v1.6M563.3,1262.0v1.6M552.7,1263.2v1.6M629.7,1203.8v1.6M576.8,1243.6v1.6M550.1,1255.2v1.6M552.1,1259.6v1.6M569.8,1239.8v1.6M580.2,1236.2v1.6M643.2,1208.8v1.6M550.7,1246.3v1.6M568.5,1218.0v1.6M632.2,1202.5v1.6M558.4,1262.0v1.6M522.5,1257.4v1.6M553.9,1243.3v1.6M534.1,1274.0v1.6M623.6,1190.3v1.6M619.7,1188.3v1.6M631.0,1178.5v1.6M625.5,1192.2v1.6M588.9,1219.1v1.6M527.0,1266.7v1.6M607.6,1186.6v1.6M529.8,1267.5v1.6M609.3,1228.3v1.6M592.8,1231.3v1.6M632.8,1195.5v1.6M586.0,1239.3v1.6M594.0,1238.2v1.6M539.6,1267.5v1.6M618.3,1211.0v1.6M543.2,1251.4v1.6M556.7,1235.2v1.6M537.8,1280.4v1.6M542.5,1266.4v1.6M643.2,1201.4v1.6M582.7,1206.6v1.6M615.0,1202.0v1.6M642.9,1199.8v1.6M569.9,1229.5v1.6M582.8,1239.4v1.6M599.4,1226.9v1.6M604.6,1202.2v1.6M563.2,1251.0v1.6M615.5,1227.2v1.6M586.8,1221.4v1.6M558.5,1258.4v1.6M639.0,1188.5v1.6M681.4,1142.0v1.6M667.0,1155.8v1.6M670.6,1151.0v1.6M660.7,1169.0v1.6M671.1,1153.8v1.6M680.3,1138.0v1.6M628.5,1193.1v1.6M684.0,1126.7v1.6M640.8,1187.5v1.6M671.9,1136.6v1.6M692.4,1135.8v1.6M674.1,1150.7v1.6M670.5,1158.5v1.6M633.0,1197.2v1.6M680.1,1145.0v1.6M646.7,1164.6v1.6M650.9,1167.3v1.6M672.7,1146.8v1.6M684.4,1127.0v1.6M634.0,1186.8v1.6M660.5,1162.2v1.6M418.1,1385.1v1.6M449.5,1420.2v1.6M434.7,1420.4v1.6M425.5,1390.5v1.6M418.6,1394.6v1.6M418.4,1391.2v1.6M439.3,1427.7v1.6M433.8,1407.2v1.6M444.4,1415.6v1.6M448.2,1421.0v1.6M420.5,1386.8v1.6M443.4,1392.7v1.6M445.5,1429.1v1.6M421.6,1390.2v1.6M428.8,1414.7v1.6M423.4,1383.6v1.6M423.6,1404.8v1.6M434.5,1401.6v1.6M454.1,1419.4v1.6M429.1,1401.3v1.6M379.0,1297.2v1.6M710.0,1136.2v1.6M745.0,1102.2v1.6M761.0,1080.2v1.6M761.0,1087.2v1.6M760.0,1096.2v1.6M805.0,1042.2v1.6M813.0,1047.2v1.6M490.0,1230.2v1.6M533.0,1230.2v1.6M574.0,1196.2v1.6M664.0,1125.2v1.6M684.0,1131.2v1.6M679.0,1135.2v1.6M671.0,1149.2v1.6M667.0,1164.2v1.6M664.0,1157.2v1.6M664.0,1173.2v1.6M668.0,1179.2v1.6M645.0,1167.2v1.6M652.0,1162.2v1.6M653.0,1167.2v1.6M281.0,1159.2v1.6M254.0,1136.2v1.6M509.0,1341.2v1.6M523.0,1335.2v1.6M546.0,1299.2v1.6M624.0,1219.2v1.6M454.0,1274.2v1.6M433.0,1429.2v1.6M454.0,1427.2v1.6" stroke="#e66a6d" stroke-width="2.9" stroke-linecap="round" fill="none"/>
<path d="M438.7,1442.4v1.6M424.9,1447.8v1.6M427.3,1453.1v1.6M427.4,1451.4v1.6M428.0,1451.5v1.6M426.0,1461.9v1.6M438.1,1450.4v1.6M428.6,1451.1v1.6M422.8,1452.3v1.6M430.9,1444.1v1.6M423.6,1458.9v1.6M436.8,1443.8v1.6M423.0,1456.9v1.6M431.9,1448.1v1.6M425.4,1456.3v1.6M438.2,1451.8v1.6M422.2,1458.4v1.6M419.3,1452.1v1.6M422.6,1455.7v1.6M434.2,1445.2v1.6M424.0,1463.3v1.6M423.2,1450.8v1.6M425.2,1454.6v1.6M425.6,1457.5v1.6M418.7,1465.1v1.6M436.4,1447.9v1.6M437.5,1447.8v1.6M433.2,1441.0v1.6M428.2,1443.3v1.6M421.6,1451.9v1.6M437.8,1448.6v1.6M433.4,1457.0v1.6M426.9,1456.6v1.6M427.3,1449.1v1.6M436.7,1453.5v1.6M427.3,1460.2v1.6M433.6,1456.7v1.6M433.5,1450.7v1.6M433.1,1448.8v1.6M427.0,1463.4v1.6M424.0,1460.9v1.6M430.0,1446.8v1.6M433.3,1453.7v1.6M427.0,1450.5v1.6M425.4,1454.7v1.6M426.2,1458.7v1.6M426.6,1455.4v1.6M430.2,1446.4v1.6M434.0,1458.4v1.6M429.9,1444.3v1.6M430.7,1453.8v1.6M435.5,1445.1v1.6M425.1,1453.9v1.6M433.3,1449.0v1.6M426.7,1454.9v1.6M429.6,1456.2v1.6M427.7,1457.3v1.6M434.7,1448.1v1.6M429.4,1459.9v1.6M427.6,1457.1v1.6M421.4,1453.2v1.6M431.3,1451.4v1.6M429.9,1453.2v1.6M424.6,1454.6v1.6M433.9,1457.1v1.6M431.8,1446.3v1.6M430.7,1447.9v1.6M429.8,1456.7v1.6M422.6,1451.9v1.6M425.7,1457.8v1.6M433.5,1454.0v1.6M428.3,1458.0v1.6M431.0,1449.3v1.6M434.6,1448.2v1.6M428.5,1459.6v1.6M424.2,1459.6v1.6M430.7,1453.1v1.6M426.1,1456.5v1.6M431.6,1455.1v1.6M426.1,1457.1v1.6M424.8,1451.1v1.6M441.3,1436.0v1.6M426.6,1464.0v1.6M425.7,1459.4v1.6M431.6,1445.7v1.6M426.1,1453.7v1.6M424.5,1449.7v1.6M423.6,1459.3v1.6M435.9,1447.3v1.6M445.0,1441.2v1.6M448.0,1439.2v1.6M451.0,1437.2v1.6M455.0,1435.2v1.6M443.0,1444.2v1.6" stroke="#4cc7bd" stroke-width="3.2" stroke-linecap="round" fill="none"/>
<path d="M867.7,1010.5v1.6M859.2,1018.0v1.6M852.9,1022.7v1.6M858.1,1020.4v1.6M862.3,1013.0v1.6M856.7,1016.4v1.6M861.0,1017.0v1.6M861.3,1013.5v1.6M869.3,1010.2v1.6M859.9,1015.9v1.6M860.2,1017.6v1.6M861.7,1016.9v1.6M865.6,1015.1v1.6M864.6,1011.7v1.6M861.7,1014.2v1.6M862.0,1020.9v1.6M862.5,1020.5v1.6M860.2,1017.9v1.6M864.6,1012.1v1.6M861.9,1014.4v1.6M859.2,1017.8v1.6M861.4,1020.8v1.6M863.1,1019.1v1.6M852.3,1026.4v1.6M862.4,1013.7v1.6M865.5,1012.9v1.6M860.8,1017.8v1.6M870.5,1005.8v1.6M861.3,1014.5v1.6M859.5,1014.0v1.6M864.1,1020.1v1.6M865.4,1013.0v1.6M867.4,1014.5v1.6M866.1,1016.6v1.6M864.7,1012.4v1.6M863.0,1006.6v1.6M859.5,1018.7v1.6M857.8,1019.5v1.6M857.9,1017.8v1.6M870.8,1006.7v1.6M862.8,1018.1v1.6M861.6,1018.3v1.6M864.6,1017.0v1.6M857.5,1022.6v1.6M859.6,1014.2v1.6M863.1,1011.0v1.6M867.0,1010.7v1.6M863.4,1013.7v1.6M861.1,1010.3v1.6M860.3,1015.1v1.6M861.8,1015.1v1.6M861.7,1012.8v1.6M870.5,1012.2v1.6M860.3,1017.0v1.6M863.9,1016.8v1.6M865.3,1007.4v1.6M857.4,1017.2v1.6M854.9,1018.3v1.6M860.4,1013.3v1.6M867.3,1011.7v1.6M848.0,1029.2v1.6M868.0,1008.2v1.6M866.0,1009.2v1.6" stroke="#b084d0" stroke-width="3.2" stroke-linecap="round" fill="none"/>
<ellipse cx="594" cy="1224" rx="297.4" ry="133.5" transform="rotate(-36.9 594 1224)" fill="none" stroke="#000" stroke-width="2.2"/>
<path d="M84.2,907.5V1494.5H905.5" fill="none" stroke="#000" stroke-width="2.3" stroke-linejoin="miter"/>
<text x="77.0" y="1063.7" font-size="24.5" stroke-width="0.38" text-anchor="end" fill="#000" stroke="#000">0.05</text>
<text x="77.0" y="1289.8" font-size="24.5" stroke-width="0.38" text-anchor="end" fill="#000" stroke="#000">0.00</text>
<text x="77.0" y="1485.5" font-size="24.5" stroke-width="0.38" text-anchor="end" fill="#000" stroke="#000">-0.05</text>
<text x="223" y="1521.2" font-size="24.2" stroke-width="0.38" text-anchor="middle" fill="#000" stroke="#000">-0.05</text>
<text x="460" y="1521.2" font-size="24.2" stroke-width="0.38" text-anchor="middle" fill="#000" stroke="#000">0.00</text>
<text x="709" y="1521.2" font-size="24.2" stroke-width="0.38" text-anchor="middle" fill="#000" stroke="#000">0.05</text>
<text x="475" y="1567" font-size="29.7" font-weight="700" stroke-width="0.3" text-anchor="middle" fill="#000" stroke="#000">PCA 1</text>
<text x="25" y="1207.5" font-size="29.2" font-weight="700" stroke-width="0.3" text-anchor="middle" fill="#000" stroke="#000" transform="rotate(-90 25 1207.5)">PCA 2</text>
<text x="20.5" y="874" font-size="38.4" font-weight="700" stroke-width="0.3" text-anchor="start" fill="#000" stroke="#000">C</text>
<text x="864.3" y="1166" font-size="24.1" stroke-width="0.38" text-anchor="start" fill="#000" stroke="#000">Ancestry</text>
<rect x="881.8" y="1179.2" width="20.2" height="20.2" fill="#e8757a"/>
<text x="904.2" y="1199.0" font-size="24.7" stroke-width="0.38" text-anchor="start" fill="#000" stroke="#000">PR</text>
<rect x="881.8" y="1212.2" width="20.2" height="20.2" fill="#b2dc4e"/>
<text x="904.2" y="1232.0" font-size="24.7" stroke-width="0.38" text-anchor="start" fill="#000" stroke="#000">AMR</text>
<rect x="881.8" y="1245.2" width="20.2" height="20.2" fill="#7cd6d5"/>
<text x="904.2" y="1265.0" font-size="24.7" stroke-width="0.38" text-anchor="start" fill="#000" stroke="#000">IBS</text>
<rect x="881.8" y="1278.2" width="20.2" height="20.2" fill="#b073b9"/>
<text x="904.2" y="1298.0" font-size="24.7" stroke-width="0.38" text-anchor="start" fill="#000" stroke="#000">YRI</text>
</g>
<g id="panelD">
<path d="M1146,925.0V1420.5" stroke="#000" stroke-width="2.2" fill="none"/>
<path d="M1135,925.5H1146M1135,1025H1146M1135,1124H1146M1135,1222H1146M1135,1321H1146M1135,1419.5H1146" stroke="#000" stroke-width="1.6" fill="none"/>
<text x="1122.3" y="925.5" font-size="25.4" stroke-width="0.38" text-anchor="middle" fill="#000" stroke="#000" transform="rotate(-90 1122.3 925.5)">1.0</text>
<text x="1122.3" y="1025" font-size="25.4" stroke-width="0.38" text-anchor="middle" fill="#000" stroke="#000" transform="rotate(-90 1122.3 1025)">0.8</text>
<text x="1122.3" y="1124" font-size="25.4" stroke-width="0.38" text-anchor="middle" fill="#000" stroke="#000" transform="rotate(-90 1122.3 1124)">0.6</text>
<text x="1122.3" y="1222" font-size="25.4" stroke-width="0.38" text-anchor="middle" fill="#000" stroke="#000" transform="rotate(-90 1122.3 1222)">0.4</text>
<text x="1122.3" y="1321" font-size="25.4" stroke-width="0.38" text-anchor="middle" fill="#000" stroke="#000" transform="rotate(-90 1122.3 1321)">0.2</text>
<text x="1122.3" y="1419.5" font-size="25.4" stroke-width="0.38" text-anchor="middle" fill="#000" stroke="#000" transform="rotate(-90 1122.3 1419.5)">0.0</text>
<rect x="1176.8" y="1359.0" width="228.3" height="61.0" fill="#b2dc50" stroke="#1a1a1a" stroke-width="2"/>
<rect x="1452.6" y="1084.2" width="228.8" height="335.2" fill="#65cfc6" stroke="#1a1a1a" stroke-width="2"/>
<rect x="1725.7" y="1317.8" width="228.7" height="102.2" fill="#a67fbf" stroke="#1a1a1a" stroke-width="2"/>
<text x="1291" y="1329.9" font-size="25.0" stroke-width="0.38" text-anchor="middle" fill="#000" stroke="#000">0.1146</text>
<text x="1559.7" y="1061.4" font-size="25.0" stroke-width="0.38" text-anchor="middle" fill="#000" stroke="#000">0.6805</text>
<text x="1833.7" y="1284.4" font-size="25.0" stroke-width="0.38" text-anchor="middle" fill="#000" stroke="#000">0.2049</text>
<text x="1291" y="1474" font-size="25.4" stroke-width="0.38" text-anchor="middle" fill="#000" stroke="#000">AMR</text>
<text x="1565.7" y="1474" font-size="25.4" stroke-width="0.38" text-anchor="middle" fill="#000" stroke="#000">IBS</text>
<text x="1831.5" y="1474" font-size="25.4" stroke-width="0.38" text-anchor="middle" fill="#000" stroke="#000">YRI</text>
<text x="1586" y="1543" font-size="30.65" font-weight="700" stroke-width="0.3" text-anchor="middle" fill="#000" stroke="#000">Parental Components</text>
<text x="1061" y="1157.2" font-size="30.65" font-weight="700" stroke-width="0.3" text-anchor="middle" fill="#000" stroke="#000" transform="rotate(-90 1061 1157.2)">Average Ancestral Fractions</text>
<text x="1938.6" y="869" font-size="40.5" font-weight="700" stroke-width="0.3" text-anchor="start" fill="#000" stroke="#000">D</text>
</g>
</svg>
</body>
</html>
